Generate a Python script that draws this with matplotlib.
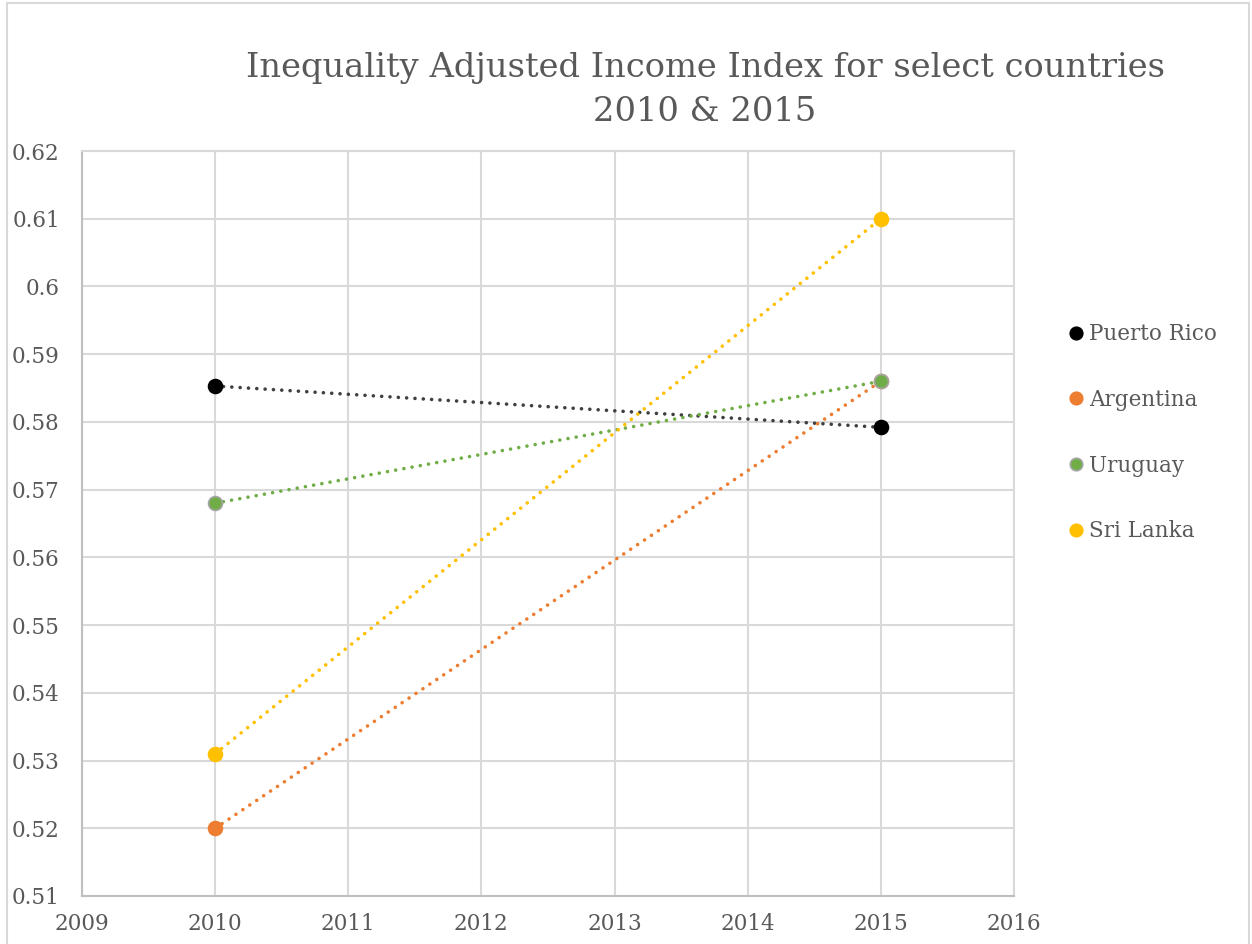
import matplotlib
matplotlib.use("Agg")
import matplotlib.pyplot as plt
from matplotlib.patches import Rectangle

years = [2010, 2015]
countries = ["Puerto Rico", "Argentina", "Uruguay", "Sri Lanka"]
puerto_rico = [0.5853, 0.5792]
argentina = [0.520, 0.586]
uruguay = [0.568, 0.586]
sri_lanka = [0.531, 0.610]
series = [puerto_rico, argentina, uruguay, sri_lanka]
line_colors = ["#404040", "#ED7D31", "#70AD47", "#FFC000"]
marker_colors = ["#000000", "#ED7D31", "#70AD47", "#FFC000"]
edge_colors = ["#000000", "#ED7D31", "#A5A5A5", "#FFC000"]
xticks = list(range(2009, 2017))
yticks = [0.51, 0.52, 0.53, 0.54, 0.55, 0.56, 0.57, 0.58, 0.59, 0.60, 0.61, 0.62]
ytick_labels = ["0.51", "0.52", "0.53", "0.54", "0.55", "0.56", "0.57", "0.58", "0.59", "0.6", "0.61", "0.62"]

plt.rcParams['font.family'] = ['DejaVu Serif']
text_color = "#595959"

fig = plt.figure(figsize=(12.52, 9.44), dpi=100)
fig.patches.append(Rectangle((7/1252, -0.01), 1242/1252, 1-3/944+0.01, transform=fig.transFigure,
                             fill=False, edgecolor="#d9d9d9", linewidth=1.5))
ax = fig.add_axes([82/1252, 1-896/944, (1014-82)/1252, (896-151)/944])

for name, vals, lc, mc, ec in zip(countries, series, line_colors, marker_colors, edge_colors):
    ax.plot(years, vals, linestyle=(0, (0.01, 2.3)), dash_capstyle='round', color=lc, linewidth=2.6, zorder=3)
    ax.plot(years, vals, linestyle='none', marker='o', markersize=10, markerfacecolor=mc,
            markeredgecolor=ec, markeredgewidth=1.2, label=name, zorder=4)

ax.set_xlim(2009, 2016)
ax.set_ylim(0.51, 0.62)
ax.set_xticks(xticks)
ax.set_xticklabels([str(x) for x in xticks])
ax.set_yticks(yticks)
ax.set_yticklabels(ytick_labels)
ax.grid(True, color="#d9d9d9", linewidth=1.5)
ax.set_axisbelow(True)
for s in ax.spines.values():
    s.set_color("#d9d9d9")
    s.set_linewidth(1.5)
ax.spines['left'].set_color("#bfbfbf")
ax.spines['bottom'].set_color("#bfbfbf")
ax.tick_params(length=0, labelsize=15.5, colors=text_color, pad=12)
ax.tick_params(axis='y', pad=16)

fig.text(705/1252, 1-90/944, "Inequality Adjusted Income Index for select countries\n2010 & 2015",
         ha='center', va='center', fontsize=24.3, color=text_color, linespacing=1.45)

leg = ax.legend(loc='upper left', bbox_to_anchor=(1.04, 0.795), frameon=False, fontsize=15.5,
                labelcolor=text_color, handlelength=0.5, handletextpad=0.35, labelspacing=2.03,
                markerscale=0.9)

fig.savefig("out.png", dpi=100)
